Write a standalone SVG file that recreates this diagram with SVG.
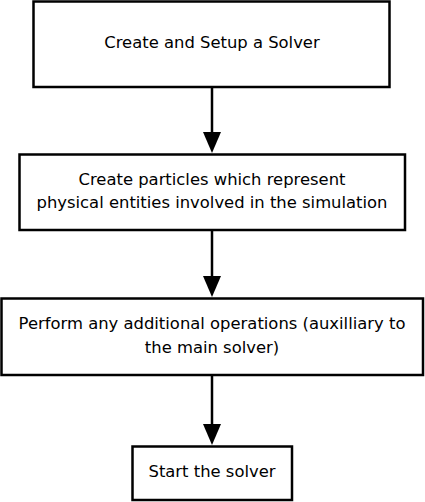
<svg xmlns="http://www.w3.org/2000/svg" width="425" height="502" viewBox="0 0 425 502">
<defs>
<style>
.box{fill:#fff;stroke:#000;stroke-width:2.5}
.t{font-family:"DejaVu Sans",sans-serif;font-size:16.4px;fill:#000;text-anchor:middle}
.c{stroke:#000;stroke-width:2.5;fill:none}
</style>
<marker id="ah" viewBox="0 0 10 10" refX="10" refY="5" markerWidth="8" markerHeight="8" markerUnits="userSpaceOnUse" orient="auto">
<path d="M0,0 L10,5 L0,10 Z" fill="#000"/>
</marker>
</defs>
<rect width="425" height="502" fill="#fff"/>
<g id="connectors">
<line class="c" x1="212" y1="87" x2="212" y2="134"/><path d="M203,132 L221,132 L212,153 Z" fill="#000"/>
<line class="c" x1="212" y1="230" x2="212" y2="278"/><path d="M203,276 L221,276 L212,297 Z" fill="#000"/>
<line class="c" x1="212" y1="375" x2="212" y2="426"/><path d="M203,424 L221,424 L212,445 Z" fill="#000"/>
</g>
<g id="n1"><rect class="box" x="33.5" y="1.5" width="356" height="85.5"/><text class="t" x="212" y="48">Create and Setup a Solver</text></g>
<g id="n2"><rect class="box" x="19.5" y="154.5" width="385.5" height="75.5"/><text class="t" x="212" y="185">Create particles which represent</text><text class="t" x="212" y="208">physical entities involved in the simulation</text></g>
<g id="n3"><rect class="box" x="1.5" y="298.5" width="421.5" height="76.5"/><text class="t" x="212" y="329">Perform any additional operations (auxilliary to</text><text class="t" x="212" y="353">the main solver)</text></g>
<g id="n4"><rect class="box" x="132.5" y="446.5" width="159.5" height="53.5"/><text class="t" x="212" y="477">Start the solver</text></g>
</svg>
